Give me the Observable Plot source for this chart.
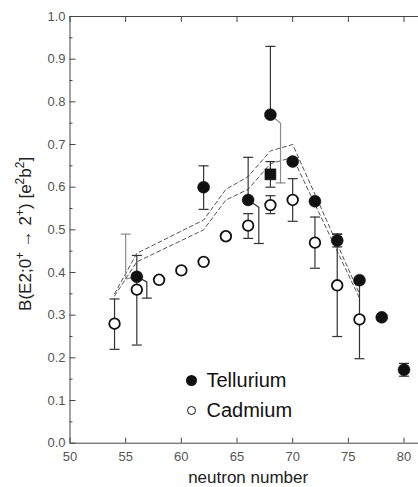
<!DOCTYPE html>
<html><head><meta charset="utf-8">
<script src="https://cdn.jsdelivr.net/npm/d3@7"></script>
<script src="https://cdn.jsdelivr.net/npm/@observablehq/plot@0.6"></script>
<style>
html,body{margin:0;padding:0;background:#fff;}
#chart{position:relative;width:418px;height:487px;overflow:hidden;}
#legend{position:absolute;left:186px;top:365px;font-family:"Liberation Sans",Arial,sans-serif;font-size:20px;color:#111;}
.row{display:flex;align-items:center;height:30px;}
.sw{width:11px;height:11px;margin-right:9.5px;display:flex;align-items:center;justify-content:center;}
.filled{width:11px;height:11px;border-radius:50%;background:#111;}
.open{width:9px;height:9px;border-radius:50%;border:1.6px solid #111;box-sizing:border-box;background:#fff;}
</style></head><body><div id="chart"></div>
<script>
// Axes
const xDomain = [50, 81.3];
const yDomain = [0, 1];
const xTicks = [50, 55, 60, 65, 70, 75, 80];
const yTicks = [0, 0.1, 0.2, 0.3, 0.4, 0.5, 0.6, 0.7, 0.8, 0.9, 1.0];
const yMinorTicks = [0.05, 0.15, 0.25, 0.35, 0.45, 0.55, 0.65, 0.75, 0.85, 0.95];
const xLabel = "neutron number";
// y label pieces: [text, superscript?]
const yLabelParts = [["B(E2;0", false], ["+", true], [" \u2192 2", false], ["+", true], [") [e", false], ["2", true], ["b", false], ["2", true], ["]", false]];
const seriesNames = ["Tellurium", "Cadmium"];

// Tellurium (filled circles)
const teN  = [56, 62, 66, 68, 70, 72, 74, 76, 78, 80];
const teB  = [0.39, 0.60, 0.57, 0.77, 0.66, 0.567, 0.475, 0.382, 0.295, 0.172];
const teLo = [null, 0.548, 0.57, 0.77, null, null, 0.46, null, null, 0.157];
const teHi = [null, 0.65, 0.67, 0.93, null, null, 0.49, null, null, 0.187];

// Tellurium, second measurement (filled square)
const sqN  = [68];
const sqB  = [0.63];
const sqLo = [0.60];
const sqHi = [0.66];

// Cadmium (open circles)
const cdN  = [54, 56, 58, 60, 62, 64, 66, 68, 70, 72, 74, 76];
const cdB  = [0.28, 0.36, 0.383, 0.405, 0.425, 0.485, 0.51, 0.558, 0.57, 0.47, 0.37, 0.29];
const cdLo = [0.22, 0.23, null, null, null, null, 0.48, 0.538, 0.52, 0.41, 0.25, 0.198];
const cdHi = [0.338, 0.44, null, null, null, null, 0.538, 0.58, 0.62, 0.53, 0.49, 0.382];

// Calculation band (two dashed curves)
const thN     = [54, 56, 62, 64, 66, 68, 70, 76];
const thUpper = [0.35, 0.445, 0.523, 0.595, 0.625, 0.685, 0.70, 0.35];
const thLower = [0.345, 0.425, 0.50, 0.57, 0.595, 0.655, 0.67, 0.34];

// Displaced error bars (drawn beside the Te points); cap sits at capIndex
const offN = [[55.0, 55.0, 56], [56, 56.9, 56.9], [66, 66.96, 66.96], [68, 68.91, 68.91]];
const offB = [[0.49, 0.385, 0.39], [0.39, 0.378, 0.34], [0.57, 0.553, 0.468], [0.77, 0.75, 0.61]];
const offCapIndex = [0, 2, 2, 2];
const offTone = ["light", "dark", "dark", "light"];

// ---- build tables ----
const te = teN.map((n, i) => ({n, b: teB[i], lo: teLo[i], hi: teHi[i]}));
const cd = cdN.map((n, i) => ({n, b: cdB[i], lo: cdLo[i], hi: cdHi[i]}));
const sq = sqN.map((n, i) => ({n, b: sqB[i], lo: sqLo[i], hi: sqHi[i]}));
const bars = [...te, ...cd, ...sq].filter(d => d.lo != null);
const caps = bars.flatMap(d => [{n: d.n, b: d.lo}, {n: d.n, b: d.hi}]);
const upper = thN.map((n, i) => ({n, b: thUpper[i]}));
const lower = thN.map((n, i) => ({n, b: thLower[i]}));
const off = offN.flatMap((ns, k) => ns.map((n, j) => ({id: k, tone: offTone[k], n, b: offB[k][j]})));
const offCaps = offN.map((ns, k) => ({tone: offTone[k], n: ns[offCapIndex[k]], b: offB[k][offCapIndex[k]]}));

const capSymbol = {draw(ctx) { ctx.moveTo(-5, 0); ctx.lineTo(5, 0); }};
const dark = "#333", light = "#8c8c8c", axisColor = "#444";

const plot = Plot.plot({
  width: 418, height: 487,
  marginLeft: 69.5, marginRight: 0, marginTop: 16, marginBottom: 44.3,
  x: {domain: xDomain},
  y: {domain: yDomain},
  style: {fontFamily: "'Liberation Sans', Arial, sans-serif", background: "#fff", color: axisColor},
  marks: [
    Plot.axisY({ticks: yTicks, tickSize: -6, tickFormat: () => "", label: null, stroke: axisColor}),
    Plot.axisY({ticks: yMinorTicks, tickSize: -3, tickFormat: () => "", label: null, stroke: axisColor}),
    Plot.axisY({ticks: yTicks, tickSize: 0, tickPadding: 4.5, tickFormat: d3.format(".1f"), label: null, fontSize: 13, fill: "#555"}),
    Plot.axisX({ticks: xTicks, tickSize: -5, tickFormat: () => "", label: null, stroke: axisColor}),
    Plot.axisX({anchor: "top", ticks: xTicks, tickSize: -5, tickFormat: () => "", label: null, stroke: axisColor}),
    Plot.axisX({ticks: xTicks, tickSize: 0, tickPadding: 9, tickFormat: d3.format("d"), label: null, fontSize: 13, fill: "#555"}),
    Plot.ruleX([xDomain[0]], {stroke: axisColor}),
    Plot.ruleY([yDomain[0]], {stroke: axisColor}),
    Plot.ruleY([yDomain[1]], {stroke: axisColor}),
    Plot.text([xLabel], {frameAnchor: "bottom", x: 66, dy: 34, lineAnchor: "middle", textAnchor: "middle", fontSize: 17, fill: "#222"}),
    Plot.text([yLabelParts.map(p => p[0]).join("")], {frameAnchor: "left", dx: -44.5, dy: 4, rotate: -90, lineAnchor: "middle", textAnchor: "middle", fontSize: 17, fill: "#222", className: "ylab"}),
    Plot.line(upper, {x: "n", y: "b", stroke: "#555", strokeDasharray: "4,3", strokeWidth: 1}),
    Plot.line(lower, {x: "n", y: "b", stroke: "#555", strokeDasharray: "4,3", strokeWidth: 1}),
    Plot.line(off.filter(d => d.tone === "light"), {x: "n", y: "b", z: "id", stroke: light, strokeWidth: 1.2}),
    Plot.line(off.filter(d => d.tone === "dark"), {x: "n", y: "b", z: "id", stroke: dark, strokeWidth: 1.2}),
    Plot.dot(offCaps.filter(d => d.tone === "light"), {x: "n", y: "b", symbol: capSymbol, stroke: light, strokeWidth: 1.2}),
    Plot.dot(offCaps.filter(d => d.tone === "dark"), {x: "n", y: "b", symbol: capSymbol, stroke: dark, strokeWidth: 1.2}),
    Plot.ruleX(bars, {x: "n", y1: "lo", y2: "hi", stroke: dark, strokeWidth: 1.2}),
    Plot.dot(caps, {x: "n", y: "b", symbol: capSymbol, stroke: dark, strokeWidth: 1.2}),
    Plot.dot(te, {x: "n", y: "b", r: 6, fill: "#111", stroke: "#111", strokeWidth: 0.5}),
    Plot.dot(cd, {x: "n", y: "b", r: 5.3, fill: "#fff", stroke: "#111", strokeWidth: 1.8}),
    Plot.dot(sq, {x: "n", y: "b", symbol: "square", r: 6.2, fill: "#111", stroke: "#111", strokeWidth: 0.5})
  ]
});
// rich text for the y label: real superscripts via tspans
const yl = plot.querySelector("g.ylab text") || plot.querySelector(".ylab text");
if (yl) {
  yl.textContent = "";
  const ns = "http://www.w3.org/2000/svg";
  yLabelParts.forEach(([t, sup], i) => {
    const ts = document.createElementNS(ns, "tspan");
    ts.textContent = t;
    if (sup) { ts.setAttribute("font-size", "12"); ts.setAttribute("dy", "-7"); }
    else if (i > 0 && yLabelParts[i - 1][1]) { ts.setAttribute("dy", "7"); }
    yl.appendChild(ts);
  });
}
const chart = document.getElementById("chart");
chart.appendChild(plot);
const legend = document.createElement("div");
legend.id = "legend";
legend.innerHTML = seriesNames.map((s, i) =>
  `<div class="row"><span class="sw"><span class="${i === 0 ? "filled" : "open"}"></span></span><span>${s}</span></div>`).join("");
chart.appendChild(legend);
</script>
</body></html>
